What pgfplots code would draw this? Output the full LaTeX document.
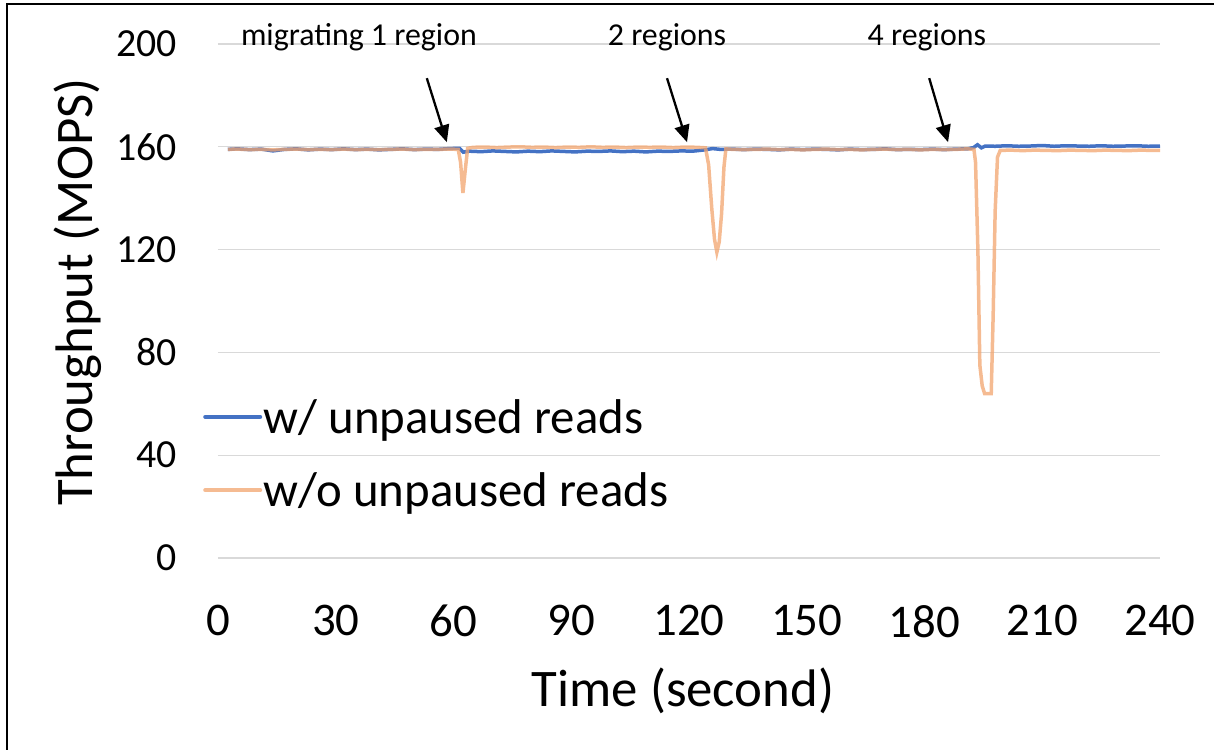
\documentclass[border=0pt]{standalone}
\usepackage{pgfplots}
\pgfplotsset{compat=1.18}
\usepackage{fontspec}
\setmainfont{Carlito}
\usetikzlibrary{arrows.meta}
\definecolor{cblue}{HTML}{4472C4}
\definecolor{corange}{HTML}{F2A46E}
\definecolor{cgrid}{HTML}{D9D9D9}
\begin{document}
\begin{tikzpicture}[x=1bp,y=1bp]
\useasboundingbox (-218,-192) rectangle (996,558);
\draw[line width=2bp] (-211,-192) -- (-211,554) -- (996,554);
\begin{axis}[
  at={(0,0)}, anchor=south west,
  scale only axis, width=942bp, height=514bp,
  xmin=0, xmax=240, ymin=0, ymax=200,
  xtick={0,30,...,240}, ytick={0,40,...,200},
  axis line style={draw=none},
  major tick length=0pt,
  ymajorgrids, grid style={cgrid, line width=1.3bp},
  /pgf/number format/assume math mode=true,
  yticklabel style={font=\fontsize{40}{46}\selectfont, anchor=east, inner sep=0pt, xshift=-41bp},
  xticklabel style={font=\fontsize{47}{54}\selectfont, anchor=north, inner sep=0pt, yshift=-47bp},
  xlabel={Time (second)}, ylabel={Throughput (MOPS)},
  label style={font=\fontsize{53}{60}\selectfont},
  xlabel style={at={(axis description cs:0.4936,-0.288)}, anchor=base, inner sep=0pt},
  ylabel style={at={(axis description cs:-0.1327,0.5175)}, anchor=base, inner sep=0pt, rotate=0},
  clip=false,
  legend style={draw=none, fill=none, at={(axis description cs:-0.0159,0.2033)}, anchor=west,
    font=\fontsize{49}{56}\selectfont, row sep=35bp, inner sep=0pt,
    nodes={inner sep=1.5bp},
    legend cell align=left},
  legend image code/.code={\draw[#1, line width=4bp, line cap=round] (0bp,0bp) -- (55bp,0bp);},
]
\addplot[cblue, line width=3.5bp] coordinates {
(2.5,159.0)(5,159.2)(8,158.9)(11,159.1)(14,158.4)(17,159.0)(20,159.2)(23,158.8)(26,159.1)(29,158.9)(32,159.2)(35,158.9)(38,159.1)(41,158.8)(44,159.0)(47,159.2)(50,158.9)(53,159.1)(56,159.0)(59,159.3)(61.5,159.4)(62.5,157.9)(64,158.3)(67,158.1)(70,158.4)(73,158.2)(76,158.0)(79,158.3)(82,158.1)(85,158.4)(88,158.2)(91,158.0)(94,158.3)(97,158.2)(100,158.4)(103,158.1)(106,158.3)(109,158.0)(112,158.3)(115,158.2)(118,158.4)(121,158.3)(124,158.8)(126,159.3)(128,159.0)(131,159.1)(134,158.9)(137,159.1)(140,159.0)(143,158.8)(146,159.1)(149,158.9)(152,159.1)(155,159.0)(158,158.8)(161,159.1)(164,158.9)(167,159.0)(170,159.2)(173,158.9)(176,159.0)(179,158.9)(182,159.1)(185,158.9)(188,159.1)(191,159.2)(192.5,159.7)(193.5,160.8)(194.5,159.6)(195.5,160.3)(198,160.2)(201,160.4)(204,160.2)(207,160.3)(210,160.5)(213,160.2)(216,160.4)(219,160.3)(222,160.2)(225,160.4)(228,160.2)(231,160.3)(234,160.4)(237,160.2)(240,160.3)
};
\addlegendentry{w/ unpaused reads}
\addplot[corange, line width=3.5bp, opacity=0.75] coordinates {
(2.5,159.0)(5,159.1)(8,158.9)(11,159.0)(14,158.8)(17,159.0)(20,159.1)(23,158.9)(26,159.0)(29,158.9)(32,159.1)(35,158.9)(38,159.0)(41,158.9)(44,159.0)(47,159.1)(50,158.9)(53,159.0)(56,159.0)(59,159.1)(61.2,159.0)(61.8,154)(62.4,142)(63.0,151)(63.6,159.4)(65,159.8)(68,159.9)(71,159.7)(74,159.9)(77,160.0)(80,159.8)(83,159.9)(86,159.7)(89,159.9)(92,159.8)(95,160.0)(98,159.8)(101,159.9)(104,159.7)(107,159.9)(110,159.8)(113,159.9)(116,159.7)(119,159.9)(122,159.8)(124.2,159.6)(125.0,153)(125.8,136)(126.5,124)(127.1,119)(127.7,123)(128.3,134)(128.9,152)(129.4,159.2)(131,159.0)(134,158.9)(137,159.0)(140,159.1)(143,158.9)(146,159.0)(149,158.8)(152,159.0)(155,159.1)(158,158.9)(161,159.0)(164,158.8)(167,159.0)(170,159.1)(173,158.9)(176,159.0)(179,158.8)(182,159.0)(185,158.9)(188,159.0)(191,159.2)(192.6,159.0)(193.0,154)(193.6,120)(194.1,75)(194.7,67)(195.3,64)(197.0,64)(197.5,95)(198.0,135)(198.6,156)(199.3,158.6)(202,158.7)(205,158.5)(208,158.7)(211,158.6)(214,158.5)(217,158.7)(220,158.6)(223,158.5)(226,158.7)(229,158.6)(232,158.5)(235,158.7)(238,158.6)(240,158.6)
};
\addlegendentry{w/o unpaused reads}
\node[font=\fontsize{32}{38}\selectfont, anchor=base, inner sep=0pt] at (axis cs:35.9,199.6) {migrating 1 region};
\node[font=\fontsize{32}{38}\selectfont, anchor=base, inner sep=0pt] at (axis cs:114.4,199.6) {2 regions};
\node[font=\fontsize{32}{38}\selectfont, anchor=base, inner sep=0pt] at (axis cs:180.6,199.6) {4 regions};
\draw[line width=2.3bp, -{Triangle[length=17bp,width=15bp]}] (axis cs:53.2,186.7) -- (axis cs:58.3,161.8);
\draw[line width=2.3bp, -{Triangle[length=17bp,width=15bp]}] (axis cs:114.4,186.7) -- (axis cs:119.5,161.8);
\draw[line width=2.3bp, -{Triangle[length=17bp,width=15bp]}] (axis cs:181.2,186.7) -- (axis cs:186.0,161.8);
\end{axis}
\end{tikzpicture}
\end{document}
